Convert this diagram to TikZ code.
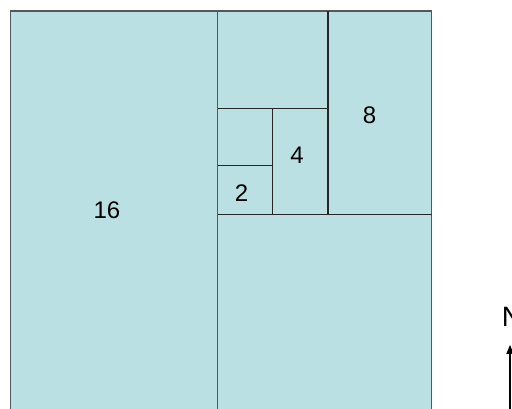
\documentclass[tikz,border=0pt]{standalone}
\usepackage{fontspec}
\setmainfont{Liberation Sans}
\usepackage{xcolor}
\usetikzlibrary{arrows.meta}
\definecolor{cellblue}{RGB}{186,224,227}
\definecolor{edgegray}{RGB}{80,90,92}

\begin{document}
\begin{tikzpicture}[
    x=1pt, y=-1pt,
    >={Triangle[width=7pt, length=9pt]},
    cell/.style={fill=cellblue},
    edge/.style={draw=edgegray, line width=1.4pt},
    split/.style={draw=black!85, line width=1.2pt},
    num/.style={font=\fontsize{24}{28}\selectfont, inner sep=0pt},
    compass/.style={font=\fontsize{28}{32}\selectfont, inner sep=0pt},
    arrow/.style={->, line width=1.3pt, black}
]
\useasboundingbox (0,0) rectangle (512,408);
\clip (0,0) rectangle (512,408);

% Cells
\fill[cell] (10.5,11) rectangle (431.5,420);
\draw[edge] (10.5,11) rectangle (217.7,420);
\draw[edge] (217.7,11) rectangle (431.5,420);

% Splits
\draw[split] (217.7,214.5) -- (431.5,214.5);
\draw[split] (328,11) -- (328,214.5);
\draw[split] (217.7,108.3) -- (328,108.3);
\draw[split] (272.7,108.3) -- (272.7,214.5);
\draw[split] (217.7,165.3) -- (272.7,165.3);

% Labels
\node[num] (sixteen) at (107,210.5) {16};
\node[num] (eight) at (369.5,115) {8};
\node[num] (four) at (297,155) {4};
\node[num] (two) at (241.5,193) {2};

% North arrow
\node[compass] (north) at (512,317) {N};
\coordinate (arrowbase) at (510,412);
\draw[arrow, shorten >=18pt] (arrowbase) -- (arrowbase |- north.south);

\end{tikzpicture}
\end{document}
